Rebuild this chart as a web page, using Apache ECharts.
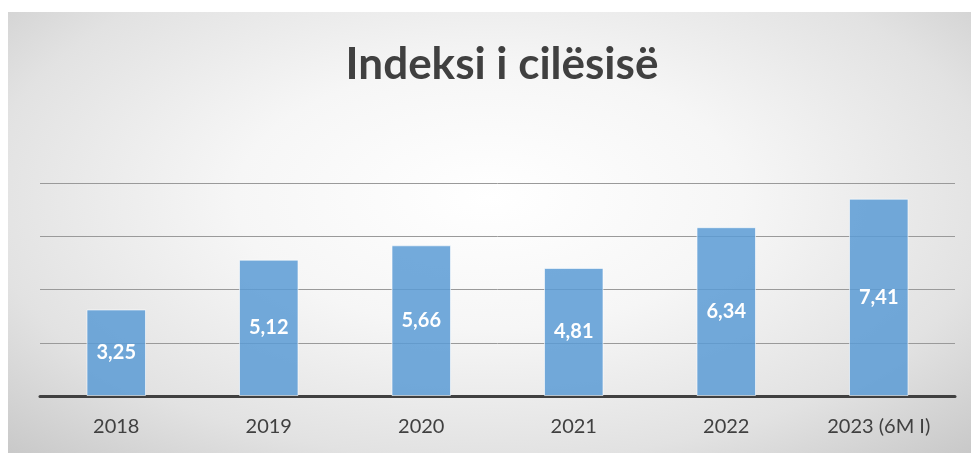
<!DOCTYPE html>
<html>
<head>
<meta charset="utf-8">
<script src="https://cdn.jsdelivr.net/npm/echarts@6/dist/echarts.min.js"></script>
<style>
html,body{margin:0;padding:0;background:#fff;}
#c{position:absolute;left:8px;top:12px;width:963px;height:441px;
  background:radial-gradient(ellipse 75% 85% at 50% 42%, #ffffff 0%, #f6f6f6 35%, #e2e2e2 70%, #c4c4c4 100%);}
</style>
</head>
<body>
<div id="c"></div>
<script>
const categories = ['2018','2019','2020','2021','2022','2023 (6M I)'];
const values = [3.25, 5.12, 5.66, 4.81, 6.34, 7.41];
const titleText = 'Indeksi i cilësisë';

const chart = echarts.init(document.getElementById('c'));
chart.setOption({
  animation: false,
  backgroundColor: 'transparent',
  title: {
    text: titleText,
    left: 489,
    textAlign: 'center',
    top: 26,
    textStyle: {fontFamily: 'Lato', fontWeight: 'bold', fontSize: 44, color: '#404040'}
  },
  grid: {left: 32, right: 16, top: 171, bottom: 57},
  xAxis: {
    type: 'category',
    data: categories,
    axisTick: {show: false},
    axisLine: {lineStyle: {color: '#404040', width: 3}},
    axisLabel: {fontFamily: 'Lato', fontSize: 20, color: '#404040', margin: 21}
  },
  yAxis: {
    type: 'value',
    min: 0, max: 8, interval: 2,
    axisLabel: {show: false},
    axisLine: {show: false},
    axisTick: {show: false},
    splitLine: {lineStyle: {color: '#9a9a9a', width: 1}}
  },
  series: [{
    type: 'bar',
    data: values,
    barWidth: '39%',
    itemStyle: {color: 'rgba(91,155,213,0.85)', borderColor: 'rgba(255,255,255,0.6)', borderWidth: 1},
    label: {
      show: true,
      position: 'inside',
      color: '#ffffff',
      fontFamily: 'Lato',
      fontWeight: 'bold',
      fontSize: 20,
      formatter: p => p.value.toFixed(2).replace('.', ',')
    }
  }]
});
</script>
</body>
</html>
